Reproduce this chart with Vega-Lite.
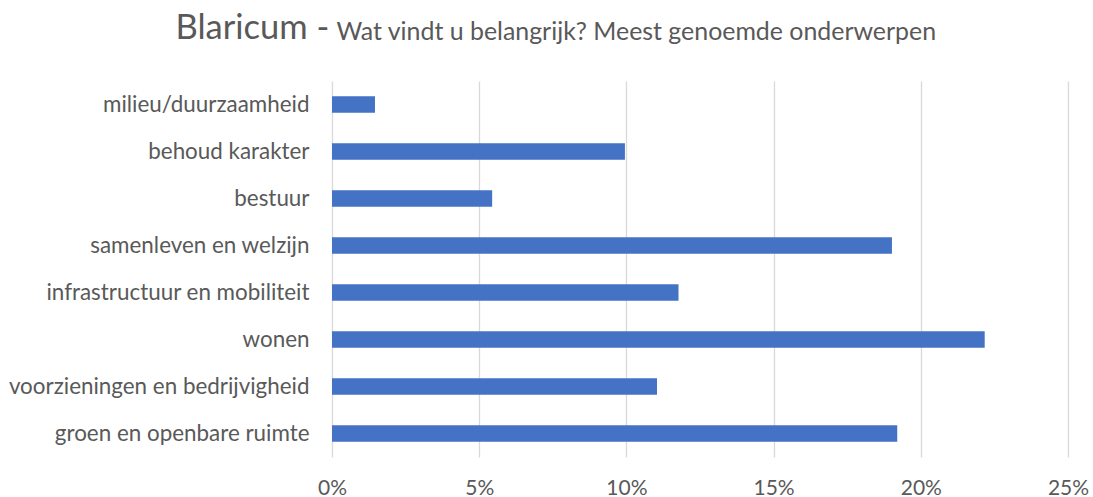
{
  "$schema": "https://vega.github.io/schema/vega-lite/v6.json",
  "width": 736,
  "height": 376,
  "autosize": {"type": "none"},
  "padding": {"left": 332, "top": 81, "right": 25, "bottom": 40},
  "background": "white",
  "config": {
    "view": {"stroke": null},
    "font": "Lato"
  },
  "data": {
    "values": [
      {"onderwerp": "milieu/duurzaamheid", "pct": 0.0146},
      {"onderwerp": "behoud karakter", "pct": 0.0995},
      {"onderwerp": "bestuur", "pct": 0.0544},
      {"onderwerp": "samenleven en welzijn", "pct": 0.1902},
      {"onderwerp": "infrastructuur en mobiliteit", "pct": 0.1177},
      {"onderwerp": "wonen", "pct": 0.2217},
      {"onderwerp": "voorzieningen en bedrijvigheid", "pct": 0.1104},
      {"onderwerp": "groen en openbare ruimte", "pct": 0.192}
    ]
  },
  "mark": {"type": "bar", "color": "#4472C4"},
  "encoding": {
    "y": {
      "field": "onderwerp",
      "type": "nominal",
      "sort": null,
      "scale": {"paddingInner": 0.645, "paddingOuter": 0.3225},
      "axis": {
        "title": "Wat vindt u belangrijk? Meest genoemde onderwerpen",
        "titleAngle": 0,
        "titleX": 4,
        "titleY": -42,
        "titleAlign": "left",
        "titleBaseline": "alphabetic",
        "titleFont": "Lato",
        "titleFontSize": 24.9,
        "titleFontWeight": "normal",
        "titleColor": "#595959",
        "ticks": false,
        "domain": false,
        "labelFontSize": 22.4,
        "labelColor": "#595959",
        "labelPadding": 23,
        "labelLimit": 400,
        "labelFont": "Lato"
      }
    },
    "x": {
      "field": "pct",
      "type": "quantitative",
      "scale": {"domain": [0, 0.25], "nice": false},
      "axis": {
        "title": "Blaricum -",
        "titleX": -157,
        "titleY": -419,
        "titleAlign": "left",
        "titleBaseline": "alphabetic",
        "titleFont": "Lato",
        "titleFontSize": 34.5,
        "titleFontWeight": "normal",
        "titleColor": "#595959",
        "values": [0, 0.05, 0.1, 0.15, 0.2, 0.25],
        "format": ".0%",
        "grid": true,
        "gridColor": "#D9D9D9",
        "gridWidth": 1.3,
        "ticks": false,
        "domain": false,
        "labelFlush": false,
        "labelFontSize": 21,
        "labelColor": "#595959",
        "labelPadding": 20,
        "labelFont": "Lato"
      }
    }
  }
}
